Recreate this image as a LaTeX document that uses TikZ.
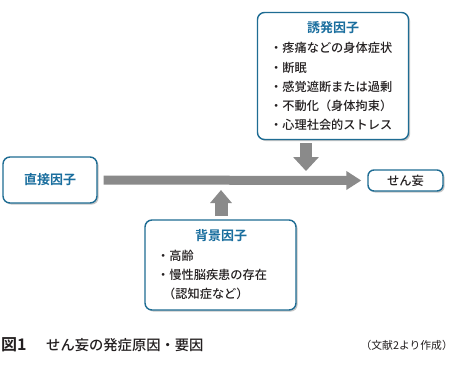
\documentclass[tikz,border=0pt]{standalone}
\usepackage{fontspec}
\setmainfont{Noto Sans CJK JP}[BoldFont={Noto Sans CJK JP Bold}]
\newfontfamily\medfont{Noto Sans CJK JP Medium}
\usetikzlibrary{arrows.meta,shadows}
\definecolor{boxblue}{HTML}{1E6C93}
\definecolor{titleblue}{HTML}{1A6E9E}
\definecolor{arrowgray}{HTML}{8A8A8A}
\definecolor{textdark}{HTML}{231F20}
\tikzset{
  fbox/.style={draw=boxblue, line width=1.4pt, rounded corners=7pt, fill=white, inner sep=0pt,
    drop shadow={shadow xshift=1.6pt, shadow yshift=-1.6pt, fill=black!40, opacity=0.55}},
  ttl/.style={text=titleblue, font=\fontsize{13}{14}\selectfont\bfseries, inner sep=0pt},
  item/.style={text=textdark, font=\fontsize{12.2}{14}\selectfont\medfont, inner sep=0pt, anchor=west},
  bigarrow/.style={draw=arrowgray, line width=#1},
}
\begin{document}
\begin{tikzpicture}[x=1pt,y=-1pt]
\useasboundingbox[fill=white] (0,0) rectangle (454,386);
% boxes
\node[fbox, minimum width=151pt, minimum height=127pt] (trig) at (333,76) {};
\node[fbox, minimum width=94pt, minimum height=46pt] (direct) at (50,180) {};
\node[fbox, minimum width=75pt, minimum height=21pt, rounded corners=6pt] (delir) at (405.5,180.5) {};
\node[fbox, minimum width=151pt, minimum height=90pt] (back) at (220.5,265) {};
% titles
\node[ttl] (trigT) at (333,28) {誘発因子};
\node[ttl] (directT) at (direct.center) {直接因子};
\node[text=textdark, font=\fontsize{12.3}{14}\selectfont\medfont, inner sep=0pt] (delirT) at (delir.center) {せん妄};
\node[ttl] (backT) at (221,236) {背景因子};
% items of trigger box
\node[item] (t1) at (270,48) {・疼痛などの身体症状};
\node[item] (t2) at (270,67.5) {・断眠};
\node[item] (t3) at (270,87) {・感覚遮断または過剰};
\node[item] (t4) at (270,106) {・不動化（身体拘束）};
\node[item] (t5) at (270,125) {・心理社会的ストレス};
% items of background box
\node[item] (b1) at (157,256) {・高齢};
\node[item] (b2) at (157,275) {・慢性脳疾患の存在};
\node[item] (b3) at (163,294) {（認知症など）};
% arrows
\coordinate (dS) at (306,143);
\coordinate (dE) at (306,171);
\draw[bigarrow=12pt, -{Triangle[width=25pt,length=14pt]}] (dS) -- (dE);
\draw[bigarrow=9pt, -{Triangle[width=18pt,length=15pt]}] ([xshift=6pt]direct.east) -- ([xshift=-6pt]delir.west);
\coordinate (uS) at (221,216);
\coordinate (uE) at (221,190);
\draw[bigarrow=13pt, -{Triangle[width=21pt,length=13pt]}] (uS) -- (uE);
% caption
\node[anchor=west, inner sep=0pt, text=textdark, font=\fontsize{16}{16}\selectfont\bfseries] (capA) at (1,345) {図1};
\node[anchor=west, inner sep=0pt, text=textdark, font=\fontsize{14.3}{16}\selectfont\medfont] (capB) at (46,345) {せん妄の発症原因・要因};
\node[anchor=east, inner sep=0pt, text=textdark, font=\fontsize{10.8}{12}\selectfont] (capC) at (453,345) {（文献2より作成）};
\end{tikzpicture}
\end{document}
